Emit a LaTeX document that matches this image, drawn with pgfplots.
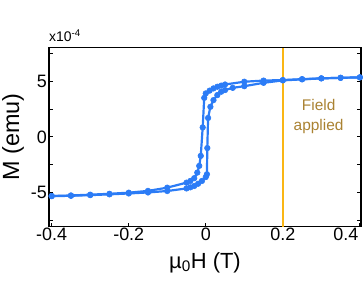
\documentclass[border=0pt]{standalone}
\usepackage{pgfplots}
\pgfplotsset{compat=1.18}
\usepackage{fontspec}
\setmainfont{Liberation Sans}
\definecolor{loopblue}{RGB}{44,124,246}
\definecolor{fieldorange}{RGB}{250,182,20}
\definecolor{fieldtext}{RGB}{170,130,50}
\begin{document}
\begin{tikzpicture}
\begin{axis}[
  scale only axis,
  width=312bp, height=179bp,
  xmin=-0.407, xmax=0.403, ymin=-8.05, ymax=8,
  xtick={-0.4,-0.2,0,0.2},
  extra x ticks={0.4},
  extra x tick style={xticklabel style={xshift=-14bp}},
  xticklabels={-0.4,-0.2,0,0.2},
  ytick={-5,0,5},
  minor ytick={-7.5,-2.5,2.5,7.5},
  tick align=inside,
  xtick pos=left,
  ytick pos=both,
  major tick length=4bp,
  minor tick length=4bp,
  axis line style={line width=1.3pt},
  every tick/.style={black, line width=1pt},
  /pgf/number format/assume math mode=true,
  ticklabel style={font=\fontsize{18}{20}\selectfont},
  xticklabel style={inner sep=1pt},
  yticklabel style={inner sep=2pt},
  xlabel={\fontsize{22}{24}\selectfont µ\textsubscript{0}H (T)},
  ylabel={\fontsize{23.5}{25}\selectfont M (emu)},
  xlabel style={at={(axis description cs:0.5,-0.2)}, anchor=center},
  ylabel style={at={(axis description cs:-0.115,0.5)}, anchor=center},
  clip=false,
]
\draw[fieldorange, line width=1.4pt] (axis cs:0.2,-8.05) -- (axis cs:0.2,8);
\addplot[loopblue, line width=2.2pt, mark=*, mark size=2.8pt, mark options={fill=loopblue, draw=loopblue, line width=0.6pt}] coordinates {
(-0.4,-5.31) (-0.35,-5.28) (-0.3,-5.22) (-0.25,-5.15) (-0.2,-5.07) (-0.15,-4.98)
(-0.1,-4.85) (-0.05,-4.62) (-0.04,-4.52) (-0.03,-4.4) (-0.02,-4.2) (-0.01,-3.95)
(0,-3.6) (0.003,-3.35) (0.004,-1.0) (0.006,1.7) (0.012,2.7) (0.02,3.3) (0.03,3.75)
(0.04,4.05) (0.05,4.2) (0.07,4.4) (0.1,4.55) (0.15,4.85) (0.2,5.07) (0.25,5.16)
(0.3,5.25) (0.35,5.3) (0.4,5.34)
};
\addplot[loopblue, line width=2.2pt, mark=*, mark size=2.8pt, mark options={fill=loopblue, draw=loopblue, line width=0.6pt}] coordinates {
(0.4,5.34) (0.35,5.3) (0.3,5.25) (0.25,5.18) (0.2,5.1) (0.15,5.05) (0.1,4.95)
(0.05,4.7) (0.04,4.6) (0.03,4.5) (0.02,4.35) (0.01,4.15) (0,3.9) (-0.004,3.5)
(-0.008,0.85) (-0.013,-1.7) (-0.017,-2.6) (-0.022,-3.2) (-0.03,-3.7) (-0.04,-3.95)
(-0.05,-4.1) (-0.1,-4.55) (-0.15,-4.84) (-0.2,-5.0) (-0.25,-5.1) (-0.3,-5.18)
(-0.35,-5.25) (-0.4,-5.3)
};
\node[anchor=base west, inner sep=0pt, font=\fontsize{14}{15}\selectfont] at ([yshift=6bp]rel axis cs:0,1) {x10\textsuperscript{-4}};
\node[align=center, text=fieldtext, font=\fontsize{15.5}{20}\selectfont] at (axis cs:0.293,1.8) {Field\\applied};
\coordinate (sw) at (rel axis cs:0,0);
\coordinate (ne) at (rel axis cs:1,1);
\end{axis}
\pgfresetboundingbox
\path ([xshift=-49bp,yshift=-65.3bp]sw) rectangle ([xshift=2bp,yshift=47.7bp]ne);
\end{tikzpicture}
\end{document}
